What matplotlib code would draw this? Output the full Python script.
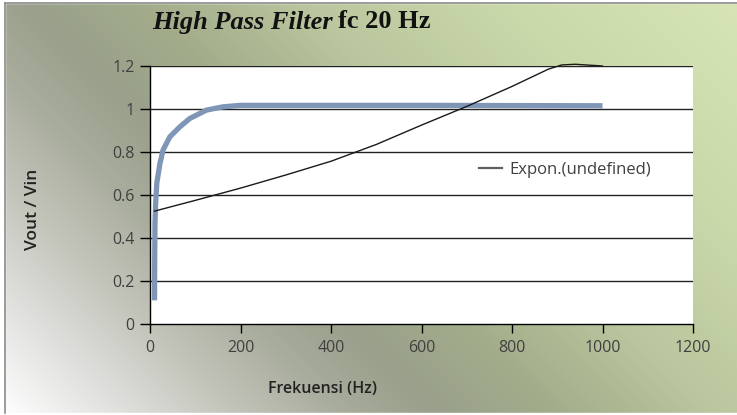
import numpy as np
import matplotlib
matplotlib.use("Agg")
import matplotlib.pyplot as plt
from matplotlib.colors import LinearSegmentedColormap
from matplotlib.lines import Line2D
from matplotlib.patches import Rectangle

# ---- data ----
freq_resp = [10, 10.5, 11, 12.5, 15, 22, 29, 44, 66, 88, 125, 161, 200, 400, 600, 800, 1000]
vout_vin = [0.11, 0.34, 0.47, 0.56, 0.655, 0.747, 0.81, 0.871, 0.917, 0.956, 0.995, 1.010,
            1.017, 1.017, 1.017, 1.016, 1.015]

freq_trend = [10, 100, 200, 300, 400, 500, 600, 700, 800, 880, 910, 940, 1000]
trend_vals = [0.525, 0.575, 0.632, 0.693, 0.757, 0.835, 0.925, 1.012, 1.105, 1.185, 1.205, 1.208, 1.20]

x_ticks = [0, 200, 400, 600, 800, 1000, 1200]
y_ticks = [0, 0.2, 0.4, 0.6, 0.8, 1.0, 1.2]
y_ticklabels = ["0", "0.2", "0.4", "0.6", "0.8", "1", "1.2"]
legend_label = "Expon.(undefined)"

W, H = 737, 415
fig = plt.figure(figsize=(W / 100, H / 100), dpi=100)
fig.patch.set_facecolor("white")

# ---- background gradient ----
bg = fig.add_axes([0, 0, 1, 1], zorder=-10)
bg.set_xlim(0, W)
bg.set_ylim(H, 0)
bg.axis("off")
cmap = LinearSegmentedColormap.from_list("bg", [
    (0.0, "#ffffff"), (0.10, "#e2e2e0"), (0.20, "#c4c6bc"), (0.30, "#a8ac9c"),
    (0.38, "#9aa08c"), (0.48, "#a2ac8a"), (0.62, "#bac69e"), (0.80, "#cad9aa"),
    (1.0, "#d6e4b6")])
xx, yy = np.meshgrid(np.arange(W), np.arange(H))
t = (xx + (H - yy)) / (W + H)
bg.imshow(t, cmap=cmap, extent=[0, W, H, 0], aspect="auto", vmin=0, vmax=1)
bg.add_patch(Rectangle((0, 0), 5, H, color="white", zorder=2))
bg.add_patch(Rectangle((0, 0), W, 3, color="white", zorder=2))
bg.add_patch(Rectangle((0, 413), W, 2, color="white", zorder=2))
bg.plot([5.5, 5.5], [3.5, 413], color="#8a8a8a", lw=1.2, zorder=3)
bg.plot([5.5, W], [3.5, 3.5], color="#8a8a8a", lw=1.2, zorder=3)

# ---- plot axes ----
L, R, T, B = 150, 693, 66, 324
ax = fig.add_axes([L / W, (H - B) / H, (R - L) / W, (B - T) / H])
ax.set_facecolor("white")
ax.set_xlim(0, 1200)
ax.set_ylim(0, 1.2)

for yv in y_ticks[1:]:
    ax.axhline(yv, color="#222222", lw=1.0, zorder=1)

ax.plot(freq_resp, vout_vin, color="#7f96b6", lw=3.8, solid_capstyle="butt",
        solid_joinstyle="round", zorder=3)
ax.plot(freq_trend, trend_vals, color="#1a1a1a", lw=1.0, zorder=4, clip_on=False)

for s in ["top", "right"]:
    ax.spines[s].set_visible(False)
ax.spines["left"].set_color("black")
ax.spines["bottom"].set_color("black")
ax.spines["left"].set_linewidth(1.0)
ax.spines["bottom"].set_linewidth(1.0)

ax.set_xticks(x_ticks)
ax.set_yticks(y_ticks)
ax.set_yticklabels(y_ticklabels)
ax.tick_params(axis="both", direction="out", colors="black", labelcolor="#404040",
               labelsize=11.5, width=1.0)
ax.tick_params(axis="y", length=7.2, pad=4)
ax.tick_params(axis="x", length=6.5, pad=5)
for lab in ax.get_xticklabels() + ax.get_yticklabels():
    lab.set_family("Open Sans")

handle = Line2D([], [], color="#606060", lw=1.6)
leg = ax.legend([handle], [legend_label], loc="center left",
                bbox_to_anchor=((479 - L) / (R - L), (B - 170) / (B - T)),
                frameon=False, handlelength=1.4, handletextpad=0.45,
                prop={"family": "Open Sans", "size": 12}, borderpad=0, borderaxespad=0)
for txt in leg.get_texts():
    txt.set_color("#404040")

# ---- axis titles ----
fig.text(33 / W, 1 - 209 / H, "Vout / Vin", rotation=90, ha="center", va="center",
         family="Open Sans", fontweight="semibold", fontsize=12.5, color="#222222")
fig.text(323 / W, 1 - 389 / H, "Frekuensi (Hz)", ha="center", va="center",
         family="Open Sans", fontweight="semibold", fontsize=11.5, color="#222222")

# ---- chart title ----
t1 = fig.text(152 / W, 1 - 22 / H, "High Pass Filter", ha="left", va="center",
              family="Liberation Serif", fontweight="bold", fontstyle="italic",
              fontsize=19, color="#111111")
fig.canvas.draw()
bb = t1.get_window_extent(renderer=fig.canvas.get_renderer())
fig.text((bb.x1 + 5) / W, 1 - 22 / H, "fc 20 Hz", ha="left", va="center",
         family="Liberation Serif", fontweight="bold", fontsize=19, color="#111111")

fig.savefig("out.png", dpi=100)
